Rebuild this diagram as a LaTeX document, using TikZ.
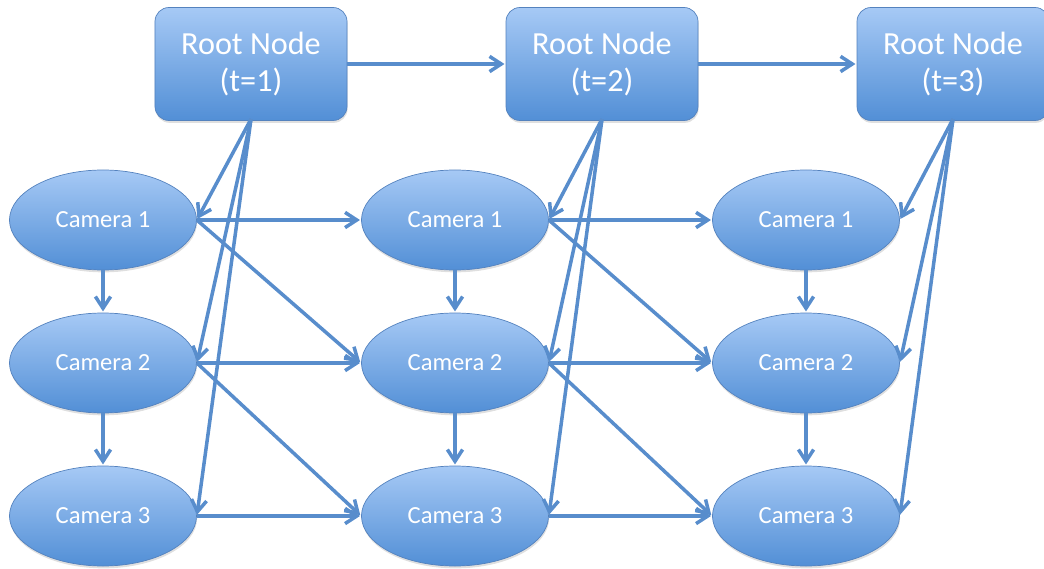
\documentclass[tikz,border=0pt]{standalone}
\usepackage{fontspec}
\setmainfont{Carlito}
\usetikzlibrary{arrows.meta,shapes.geometric,shadows}
\definecolor{topblue}{RGB}{166,201,245}
\definecolor{botblue}{RGB}{82,143,214}
\definecolor{edgeblue}{RGB}{84,130,190}
\definecolor{arrowblue}{RGB}{88,141,204}
\tikzset{
  rootbox/.style={rectangle, rounded corners=0.42cm, minimum width=5.76cm, minimum height=3.39cm,
    inner sep=0pt, top color=topblue, bottom color=botblue, draw=edgeblue, line width=0.6pt,
    text=white, align=center, font=\fontsize{27.5}{32}\selectfont,
    drop shadow={opacity=0.25, shadow xshift=0.5pt, shadow yshift=-2pt}},
  cambox/.style={ellipse, minimum width=5.61cm, minimum height=3.0cm, inner sep=0pt,
    top color=topblue, bottom color=botblue, draw=edgeblue, line width=0.6pt,
    text=white, font=\fontsize{21}{25}\selectfont,
    drop shadow={opacity=0.25, shadow xshift=0.5pt, shadow yshift=-2pt}},
  link/.style={draw=arrowblue, line width=3pt, -{Straight Barb[length=10pt,width=13pt,line width=3pt]}, shorten >=1pt}
}
\begin{document}
\begin{tikzpicture}[x=0.03cm,y=-0.03cm]
\useasboundingbox (0,0) rectangle (1044,569);
% root nodes
\node[rootbox] (r1) at (251,64) {Root Node\\(t=1)};
\node[rootbox] (r2) at (602,64) {Root Node\\(t=2)};
\node[rootbox] (r3) at (953,64) {Root Node\\(t=3)};
% cameras
\foreach \c/\x in {1/103,2/455,3/806}{
  \node[cambox] (c\c1) at (\x,220) {Camera 1};
  \node[cambox] (c\c2) at (\x,363) {Camera 2};
  \node[cambox] (c\c3) at (\x,516) {Camera 3};
}
% root chain
\draw[link] (r1.east) -- (r2.west);
\draw[link] (r2.east) -- (r3.west);
% root to cameras
\foreach \c in {1,2,3}{
  \coordinate (s\c) at ([yshift=1.5pt]r\c.south);
  \draw[link] (s\c) -- (c\c1.east);
  \draw[link] (s\c) -- (c\c2.east);
  \draw[link] (s\c) -- (c\c3.east);
  \draw[link] (c\c1.south) -- (c\c2.north);
  \draw[link] (c\c2.south) -- (c\c3.north);
}
% between columns
\foreach \a/\b in {1/2,2/3}{
  \draw[link] (c\a1.east) -- (c\b1.west);
  \draw[link] (c\a1.east) -- (c\b2.west);
  \draw[link] (c\a2.east) -- (c\b2.west);
  \draw[link] (c\a2.east) -- (c\b3.west);
  \draw[link] (c\a3.east) -- (c\b3.west);
}
\end{tikzpicture}
\end{document}
